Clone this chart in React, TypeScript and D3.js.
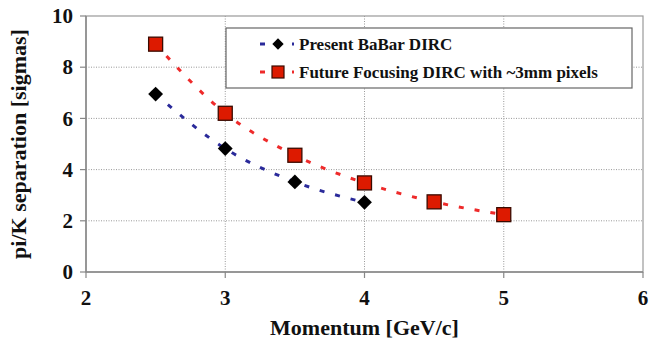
import * as d3 from "d3";
import React from "react";

const xTicks = [2, 3, 4, 5, 6];
const yTicks = [0, 2, 4, 6, 8, 10];

const presentMomentum = [2.5, 3, 3.5, 4];
const presentSigmas = [6.95, 4.82, 3.52, 2.72];

const futureMomentum = [2.5, 3, 3.5, 4, 4.5, 5];
const futureSigmas = [8.9, 6.2, 4.56, 3.48, 2.74, 2.24];

const legendLabels = ["Present BaBar DIRC", "Future Focusing DIRC with ~3mm pixels"];

type Pt = { x: number; y: number };

const width = 652;
const height = 340;
const margin = { top: 16, right: 9, bottom: 68, left: 86 };
const font = "Liberation Serif, Times New Roman, serif";
const blue = "#2a2a9a";
const red = "#ee2a2a";
const dash = "5,11";

const App: React.FC = () => {
  const x = d3.scaleLinear().domain([2, 6]).range([margin.left, width - margin.right]);
  const y = d3.scaleLinear().domain([0, 10]).range([height - margin.bottom, margin.top]);

  const present: Pt[] = presentMomentum.map((m, i) => ({ x: m, y: presentSigmas[i] }));
  const future: Pt[] = futureMomentum.map((m, i) => ({ x: m, y: futureSigmas[i] }));

  const line = d3
    .line<Pt>()
    .x((d) => x(d.x))
    .y((d) => y(d.y))
    .curve(d3.curveMonotoneX);

  const diamond = d3.symbol().type(d3.symbolSquare).size(110)() as string;
  const legendDiamond = d3.symbol().type(d3.symbolSquare).size(64)() as string;
  const sq = 14;

  return (
    <svg
      width={width}
      height={height}
      style={{ position: "absolute", left: 0, top: 0, background: "#fff" }}
    >
      {/* grid */}
      {yTicks
        .filter((d) => d > 0 && d < 10)
        .map((d) => (
          <line key={"h" + d} x1={x(2)} x2={x(6)} y1={y(d)} y2={y(d)} stroke="#999" strokeDasharray="1,1.5" />
        ))}
      {xTicks
        .filter((d) => d > 2 && d < 6)
        .map((d) => (
          <line key={"v" + d} x1={x(d)} x2={x(d)} y1={y(0)} y2={y(10)} stroke="#999" strokeDasharray="1,1.5" />
        ))}

      {/* frame */}
      <rect x={x(2)} y={y(10)} width={x(6) - x(2)} height={y(0) - y(10)} fill="none" stroke="#999" strokeWidth={1.2} />
      <line x1={x(2)} x2={x(2)} y1={y(0)} y2={y(10)} stroke="#888" strokeWidth={1.5} />
      <line x1={x(2)} x2={x(6)} y1={y(0)} y2={y(0)} stroke="#888" strokeWidth={1.5} />

      {/* y ticks */}
      {yTicks.map((d) => (
        <g key={"yt" + d} transform={`translate(${x(2)},${y(d)})`}>
          <line x1={-6} x2={0} stroke="#888" strokeWidth={1.2} />
          <text x={-13} dy="0.34em" textAnchor="end" fontFamily={font} fontWeight="bold" fontSize={21} fill="#111">
            {d}
          </text>
        </g>
      ))}
      {/* x ticks */}
      {xTicks.map((d) => (
        <g key={"xt" + d} transform={`translate(${x(d)},${y(0)})`}>
          <line y1={0} y2={6} stroke="#888" strokeWidth={1.2} />
          <text y={33} textAnchor="middle" fontFamily={font} fontWeight="bold" fontSize={21} fill="#111">
            {d}
          </text>
        </g>
      ))}

      {/* axis titles */}
      <text
        x={(x(2) + x(6)) / 2}
        y={335}
        textAnchor="middle"
        fontFamily={font}
        fontWeight="bold"
        fontSize={22}
        fill="#111"
      >
        Momentum [GeV/c]
      </text>
      <text
        transform={`translate(26,${(y(0) + y(10)) / 2}) rotate(-90)`}
        textAnchor="middle"
        fontFamily={font}
        fontWeight="bold"
        fontSize={22}
        fill="#111"
      >
        pi/K separation [sigmas]
      </text>

      {/* trend lines */}
      <path d={line(present) ?? ""} fill="none" stroke={blue} strokeWidth={3} strokeDasharray={dash} />
      <path d={line(future) ?? ""} fill="none" stroke={red} strokeWidth={3} strokeDasharray={dash} />

      {/* markers */}
      {present.map((d, i) => (
        <path key={"p" + i} d={diamond} transform={`translate(${x(d.x)},${y(d.y)}) rotate(45)`} fill="#000" />
      ))}
      {future.map((d, i) => (
        <rect
          key={"f" + i}
          x={x(d.x) - sq / 2}
          y={y(d.y) - sq / 2}
          width={sq}
          height={sq}
          fill="#dd1a00"
          stroke="#3a0a00"
          strokeWidth={1.3}
        />
      ))}

      {/* legend */}
      <g transform="translate(226,28)">
        <rect width={406} height={60} fill="#fff" stroke="#666" strokeWidth={1.2} />
        {legendLabels.map((label, i) => {
          const cy = 16 + i * 28;
          return (
            <g key={label}>
              <line x1={34} x2={68} y1={cy} y2={cy} stroke={i === 0 ? blue : red} strokeWidth={3} strokeDasharray={dash} />
              {i === 0 ? (
                <path d={legendDiamond} transform={`translate(52,${cy}) rotate(45)`} fill="#000" />
              ) : (
                <rect x={46} y={cy - 6} width={12} height={12} fill="#dd1a00" stroke="#3a0a00" strokeWidth={1.2} />
              )}
              <text x={73} y={cy + 5.5} fontFamily={font} fontWeight="bold" fontSize={17} fill="#111">
                {label}
              </text>
            </g>
          );
        })}
      </g>
    </svg>
  );
};

export default App;
